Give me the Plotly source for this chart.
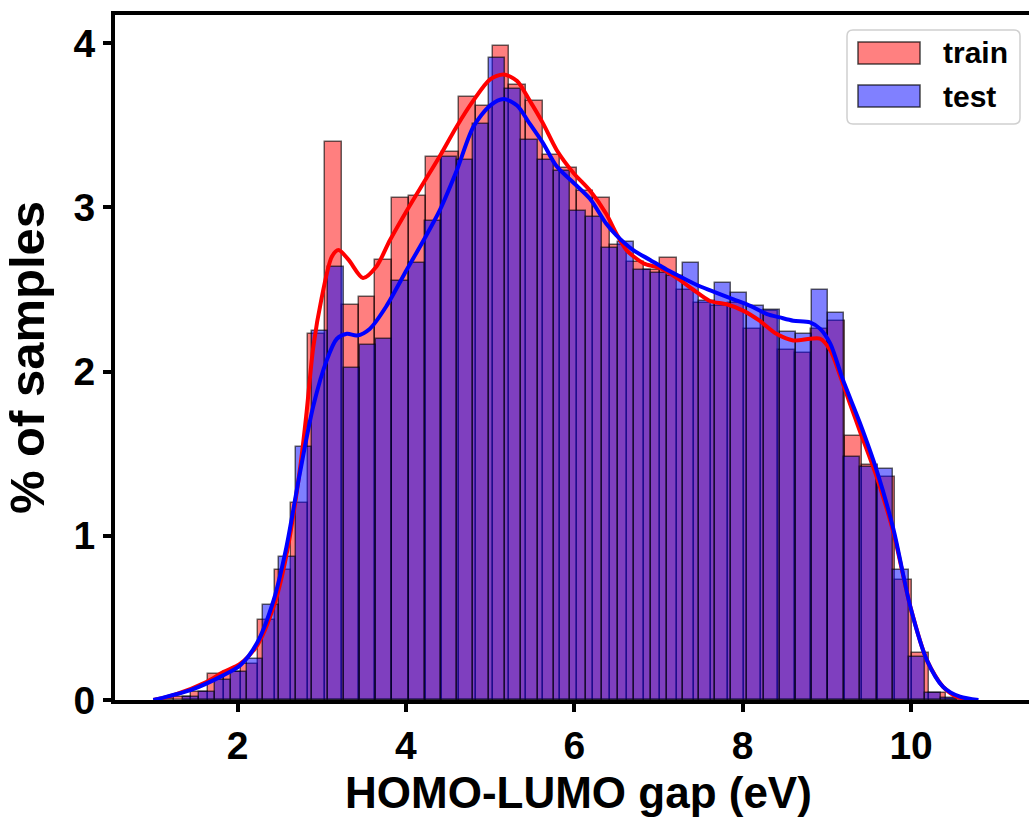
import plotly.graph_objects as go

# ---------------- data ----------------
train_first_edge = 1.047
train_bin_width = 0.1992
train_pct = [0.005, 0.02, 0.05, 0.157, 0.17, 0.22, 0.49, 0.79, 1.20, 2.23,
             3.40, 2.405, 2.456, 2.68, 3.06, 3.07, 3.305, 3.335, 3.67, 3.62,
             3.98, 3.745, 3.65, 3.32, 3.24, 3.10, 3.055, 2.77, 2.67, 2.62,
             2.69, 2.50, 2.42, 2.40, 2.42, 2.26, 2.37, 2.13, 2.115, 2.26,
             2.31, 1.61, 1.43, 1.36, 0.73, 0.284, 0.045, 0.005]

test_first_edge = 1.347
test_bin_width = 0.1917
test_pct = [0.02, 0.05, 0.12, 0.17, 0.25, 0.58, 0.87, 1.54, 2.25, 2.64,
            2.02, 2.16, 2.20, 2.55, 2.66, 2.92, 3.305, 3.29, 3.51, 3.91,
            3.72, 3.41, 3.29, 3.22, 2.98, 2.94, 2.75, 2.79, 2.62, 2.60,
            2.58, 2.66, 2.43, 2.54, 2.48, 2.40, 2.375, 2.24, 2.23, 2.50,
            2.355, 1.48, 1.42, 1.405, 0.79, 0.26, 0.045, 0.01]

train_kde_x = [1.0, 1.24, 1.63, 1.83, 2.03, 2.23, 2.43, 2.58, 2.74, 2.82, 2.90, 3.0,
               3.12, 3.20, 3.32, 3.49, 3.65, 3.81, 4.01, 4.21, 4.40, 4.60, 4.80,
               5.00, 5.16, 5.32, 5.47, 5.63, 5.79, 5.99, 6.19, 6.38, 6.50, 6.62,
               6.82, 7.02, 7.22, 7.41, 7.61, 7.81, 8.01, 8.20, 8.40, 8.60, 8.80,
               8.92, 9.04, 9.16, 9.27, 9.39, 9.59, 9.79, 9.99, 10.19, 10.38, 10.54, 10.7]
train_kde_y = [0.0, 0.03, 0.11, 0.17, 0.22, 0.33, 0.57, 0.88, 1.40, 1.75, 2.15, 2.45,
               2.70, 2.74, 2.68, 2.57, 2.64, 2.80, 2.98, 3.15, 3.31, 3.49, 3.65,
               3.78, 3.81, 3.77, 3.65, 3.51, 3.35, 3.21, 3.10, 2.96, 2.84, 2.74,
               2.66, 2.63, 2.57, 2.50, 2.43, 2.41, 2.37, 2.31, 2.23, 2.19, 2.20,
               2.20, 2.13, 1.97, 1.81, 1.64, 1.36, 1.02, 0.57, 0.24, 0.08, 0.02, 0.0]

test_kde_x = [1.0, 1.08, 1.44, 1.83, 2.03, 2.23, 2.43, 2.58, 2.74, 2.90, 3.06, 3.18,
              3.30, 3.42, 3.57, 3.77, 4.01, 4.21, 4.40, 4.60, 4.80, 5.00, 5.16,
              5.32, 5.47, 5.63, 5.79, 5.99, 6.19, 6.38, 6.50, 6.70, 6.90, 7.10,
              7.29, 7.49, 7.69, 7.89, 8.09, 8.29, 8.44, 8.60, 8.80, 8.92, 9.04,
              9.19, 9.39, 9.59, 9.79, 9.99, 10.19, 10.38, 10.58, 10.8]
test_kde_y = [0.0, 0.01, 0.06, 0.15, 0.21, 0.345, 0.61, 0.93, 1.38, 1.79, 2.07, 2.20,
              2.23, 2.22, 2.26, 2.40, 2.62, 2.80, 2.98, 3.22, 3.49, 3.62, 3.66,
              3.62, 3.51, 3.39, 3.25, 3.15, 3.05, 2.90, 2.83, 2.74, 2.68, 2.62,
              2.57, 2.52, 2.48, 2.44, 2.40, 2.35, 2.33, 2.31, 2.30, 2.26, 2.17,
              1.95, 1.69, 1.40, 1.04, 0.57, 0.24, 0.08, 0.02, 0.0]

series_names = ["train", "test"]
x_ticks = [2, 4, 6, 8, 10]
y_ticks = [0, 1, 2, 3, 4]
x_title = "HOMO-LUMO gap (eV)"
y_title = "% of samples"

# ---------------- figure ----------------
W, H = 1029, 820
L, R, T, B = 115, 0, 15, 120
FONT = "Liberation Sans, Arial, sans-serif"

train_centers = [train_first_edge + (i + 0.5) * train_bin_width for i in range(len(train_pct))]
test_centers = [test_first_edge + (i + 0.5) * test_bin_width for i in range(len(test_pct))]

fig = go.Figure()
fig.add_trace(go.Bar(x=train_centers, y=train_pct, width=train_bin_width, name=series_names[0],
                     marker=dict(color="rgba(255,0,0,0.5)", line=dict(color="rgba(0,0,0,0.6)", width=1.5)),
                     showlegend=False))
fig.add_trace(go.Bar(x=test_centers, y=test_pct, width=test_bin_width, name=series_names[1],
                     marker=dict(color="rgba(0,0,255,0.5)", line=dict(color="rgba(0,0,0,0.6)", width=1.5)),
                     showlegend=False))
fig.add_trace(go.Scatter(x=train_kde_x, y=train_kde_y, mode="lines",
                         line=dict(color="red", width=4, shape="spline", smoothing=0.8),
                         showlegend=False, hoverinfo="skip"))
fig.add_trace(go.Scatter(x=test_kde_x, y=test_kde_y, mode="lines",
                         line=dict(color="blue", width=4, shape="spline", smoothing=0.8),
                         showlegend=False, hoverinfo="skip"))

pw, ph = W - L - R, H - T - B


def px(xp):
    return (xp - L) / pw


def py(yp):
    return (H - B - yp) / ph


# manual legend (matplotlib-style large patches)
bx0, bx1, by0, by1, rad = 847, 1020, 30, 124, 6
rx, ry = rad / pw, rad / ph
path = (f"M {px(bx0)+rx},{py(by0)} L {px(bx1)-rx},{py(by0)} Q {px(bx1)},{py(by0)} {px(bx1)},{py(by0)-ry} "
        f"L {px(bx1)},{py(by1)+ry} Q {px(bx1)},{py(by1)} {px(bx1)-rx},{py(by1)} "
        f"L {px(bx0)+rx},{py(by1)} Q {px(bx0)},{py(by1)} {px(bx0)},{py(by1)+ry} "
        f"L {px(bx0)},{py(by0)-ry} Q {px(bx0)},{py(by0)} {px(bx0)+rx},{py(by0)} Z")
shapes = [dict(type="path", xref="paper", yref="paper", path=path,
               fillcolor="rgba(255,255,255,0.8)", line=dict(color="#d0d0d0", width=1.5))]
annotations = []
swatches = [("rgb(255,128,128)", 42, 64), ("rgb(128,128,255)", 85, 107)]
for (col, y0, y1), name in zip(swatches, series_names):
    shapes.append(dict(type="rect", xref="paper", yref="paper", x0=px(858), x1=px(920), y0=py(y1), y1=py(y0),
                       fillcolor=col, line=dict(color="rgba(0,0,0,0.7)", width=1.5)))
    annotations.append(dict(xref="paper", yref="paper", x=px(941), y=py((y0 + y1) / 2), text=name,
                            showarrow=False, xanchor="left", yanchor="middle",
                            font=dict(family=FONT, size=30, color="black", weight="bold")))

# x-axis title placed as text below the tick labels
annotations.append(dict(xref="paper", yref="paper", x=px(578), y=py(819), text=x_title,
                        showarrow=False, xanchor="center", yanchor="bottom",
                        font=dict(family=FONT, size=44, color="black", weight="bold")))

axis_common = dict(showgrid=False, zeroline=False, showline=True, linecolor="black", linewidth=4,
                   ticks="outside", ticklen=8, tickwidth=3.5, tickcolor="black",
                   tickfont=dict(family=FONT, size=39, color="black", weight="bold"))

fig.update_layout(
    width=W, height=H, margin=dict(l=L, r=R, t=T, b=B, autoexpand=False),
    paper_bgcolor="white", plot_bgcolor="white", barmode="overlay", bargap=0,
    shapes=shapes, annotations=annotations,
    xaxis=dict(range=[0.545, 0.545 + pw / 84.2], tickvals=x_ticks, mirror=True, **axis_common),
    yaxis=dict(range=[0, ph / 164.2], tickvals=y_ticks,
               title=dict(text=y_title, standoff=14, font=dict(family=FONT, size=49, color="black", weight="bold")),
               **axis_common),
)

fig.write_html("out.html")
